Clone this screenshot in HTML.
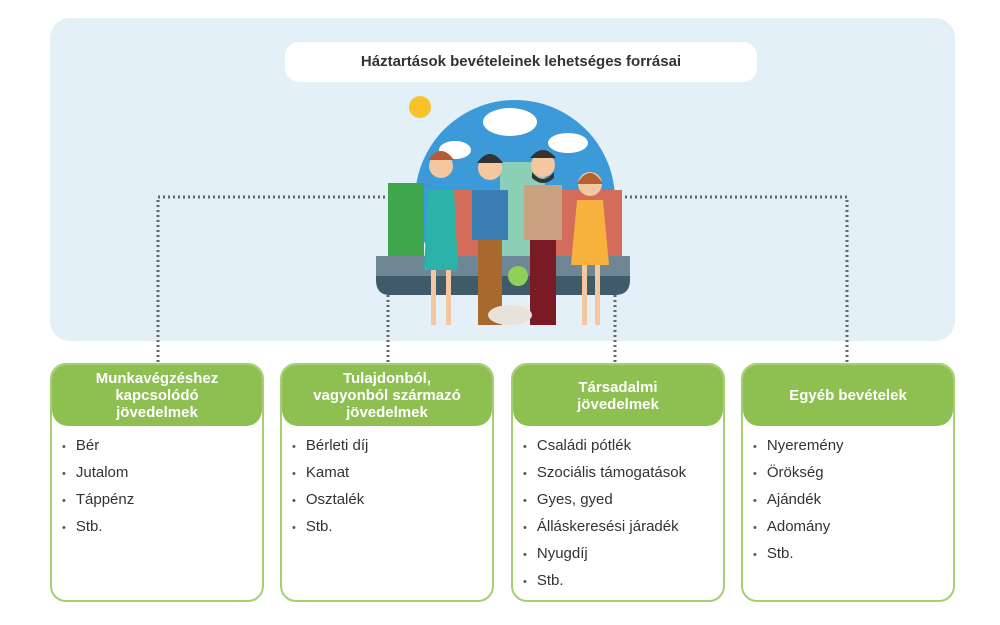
<!DOCTYPE html>
<html><head><meta charset="utf-8"><style>
body{margin:0;width:1000px;height:625px;background:#fff;position:relative;overflow:hidden;font-family:"Liberation Sans",sans-serif}
.panel{position:absolute;left:50px;top:18px;width:905px;height:323px;background:#e3f0f8;border-radius:20px}
.title{position:absolute;left:285px;top:42px;width:472px;height:40px;background:#fff;border-radius:14px;text-align:center;line-height:40px;font-weight:bold;font-size:15px;color:#333}
.box{position:absolute;top:363px;width:210px;height:235px;border:2px solid #a6cf73;border-radius:16px;background:#fff;overflow:hidden}
.hd{background:#8dc051;color:#fff;font-weight:bold;font-size:15px;text-align:center;height:61px;display:flex;align-items:center;justify-content:center;line-height:17px;border-radius:0 0 16px 16px}
ul{margin:6px 0 0 0;padding:0 0 0 10px;list-style:none;font-size:15px;color:#333}
li{height:27px;line-height:27px}
li:before{content:"•";margin-right:10px;font-size:11px;color:#555}
</style></head><body>
<div class="panel"></div>
<div class="title">Háztartások bevételeinek lehetséges forrásai</div>
<svg width="1000" height="625" style="position:absolute;left:0;top:0">
<g stroke="#666" stroke-width="3" stroke-dasharray="2 3" fill="none">
<path d="M158 362V197H400"/><path d="M388 290V362"/><path d="M615 290V362"/><path d="M620 197H847V362"/>
</g>
<clipPath id="c"><rect x="370" y="80" width="280" height="180"/></clipPath>
<circle cx="515" cy="200" r="100" fill="#3c9ad8" clip-path="url(#c)"/>
<circle cx="420" cy="107" r="11" fill="#f8c22a"/>
<g fill="#fff"><ellipse cx="510" cy="122" rx="27" ry="14"/><ellipse cx="568" cy="143" rx="20" ry="10"/><ellipse cx="455" cy="150" rx="16" ry="9"/></g>
<rect x="388" y="183" width="36" height="75" fill="#3fa64c"/>
<rect x="452" y="190" width="170" height="68" fill="#d36c5a"/>
<rect x="500" y="162" width="45" height="96" fill="#8bd0b6"/>
<path d="M376 256H630V280Q630 295 615 295H390Q376 295 376 280Z" fill="#3f5a68"/>
<rect x="376" y="256" width="254" height="20" fill="#6f8695"/>
<circle cx="518" cy="276" r="10" fill="#8fd05a"/>
<!-- people -->
<g><circle cx="441" cy="166" r="12" fill="#f4c7a1"/><path d="M428 160q13-18 26 0" fill="#b55a34"/><path d="M428 190h26l4 80h-34z" fill="#2bb3a9"/><rect x="431" y="270" width="5" height="55" fill="#f4c7a1"/><rect x="446" y="270" width="5" height="55" fill="#f4c7a1"/></g>
<g><circle cx="490" cy="168" r="12" fill="#f4c7a1"/><path d="M477 163q13-18 26 0" fill="#333"/><path d="M472 190h36v50h-36z" fill="#3a7eb4"/><rect x="478" y="240" width="24" height="85" fill="#a8692c"/></g>
<g><circle cx="543" cy="165" r="12" fill="#f4c7a1"/><path d="M532 172q11 14 22 0v6q-11 10-22 0z" fill="#333"/><path d="M530 158q13-16 26 0" fill="#333"/><path d="M524 185h38v55h-38z" fill="#c8a282"/><rect x="530" y="240" width="26" height="85" fill="#7a1a25"/></g>
<g><circle cx="590" cy="184" r="12" fill="#f4c7a1"/><path d="M577 184q13-22 26 0" fill="#b5602f"/><path d="M577 200h26l6 65h-38z" fill="#f6b23c"/><rect x="582" y="265" width="5" height="60" fill="#f4c7a1"/><rect x="595" y="265" width="5" height="60" fill="#f4c7a1"/></g>
<ellipse cx="510" cy="315" rx="22" ry="10" fill="#e8e2da"/>
</svg>
<div class="box" style="left:50px"><div class="hd">Munkavégzéshez<br>kapcsolódó<br>jövedelmek</div><ul><li>Bér</li><li>Jutalom</li><li>Táppénz</li><li>Stb.</li></ul></div>
<div class="box" style="left:280px"><div class="hd">Tulajdonból,<br>vagyonból származó<br>jövedelmek</div><ul><li>Bérleti díj</li><li>Kamat</li><li>Osztalék</li><li>Stb.</li></ul></div>
<div class="box" style="left:511px"><div class="hd">Társadalmi<br>jövedelmek</div><ul><li>Családi pótlék</li><li>Szociális támogatások</li><li>Gyes, gyed</li><li>Álláskeresési járadék</li><li>Nyugdíj</li><li>Stb.</li></ul></div>
<div class="box" style="left:741px"><div class="hd">Egyéb bevételek</div><ul><li>Nyeremény</li><li>Örökség</li><li>Ajándék</li><li>Adomány</li><li>Stb.</li></ul></div>
</body></html>
